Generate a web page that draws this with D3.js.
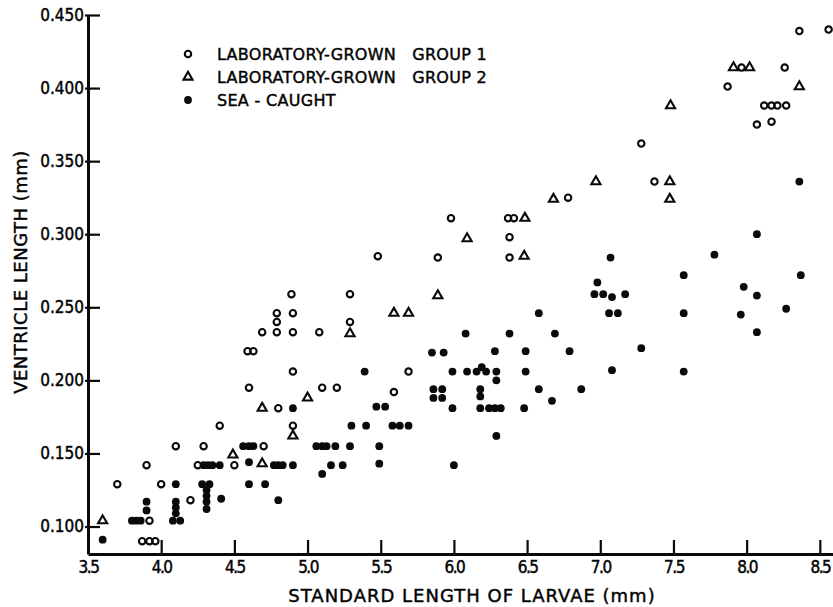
<!DOCTYPE html>
<html>
<head>
<meta charset="utf-8">
<script src="https://cdn.jsdelivr.net/npm/d3@7"></script>
<style>
  html, body { margin: 0; padding: 0; background: #fff; }
  svg { display: block; }
  text { fill: #000; }
</style>
</head>
<body>
<svg id="chart" width="833" height="607"></svg>
<script>
// ---------- data ----------
const xTickValues = [3.5, 4.0, 4.5, 5.0, 5.5, 6.0, 6.5, 7.0, 7.5, 8.0, 8.5];
const yTickValues = [0.100, 0.150, 0.200, 0.250, 0.300, 0.350, 0.400, 0.450];
const legendLabels = ["LABORATORY-GROWN   GROUP 1", "LABORATORY-GROWN   GROUP 2", "SEA - CAUGHT"];
const xTitle = "STANDARD LENGTH OF LARVAE (mm)";
const yTitle = "VENTRICLE LENGTH (mm)";

// [standard length, ventricle length]
const labGroup1 = [
  [3.7,0.129],[3.9,0.142],[3.92,0.104],[3.87,0.090],[3.92,0.090],[3.96,0.090],
  [4.0,0.129],[4.1,0.155],[4.2,0.118],[4.25,0.142],[4.29,0.155],[4.4,0.169],
  [4.5,0.142],[4.59,0.220],[4.63,0.220],[4.6,0.195],[4.69,0.233],[4.79,0.233],
  [4.9,0.233],[5.08,0.233],[4.79,0.246],[4.9,0.246],[4.79,0.240],[4.89,0.259],
  [5.29,0.259],[5.29,0.240],[5.48,0.285],[4.9,0.206],[5.69,0.206],[5.1,0.195],
  [5.2,0.195],[5.59,0.192],[4.8,0.181],[4.9,0.169],[4.7,0.155],[5.98,0.311],
  [6.37,0.311],[6.41,0.311],[6.38,0.298],[5.89,0.284],[6.38,0.284],[6.78,0.325],
  [7.28,0.362],[7.37,0.336],[7.87,0.401],[7.965,0.414],[8.26,0.414],[8.12,0.388],
  [8.17,0.388],[8.21,0.388],[8.27,0.388],[8.07,0.375],[8.17,0.377],[8.36,0.439],
  [8.56,0.440]
];
const labGroup2 = [
  [3.6,0.104],[4.49,0.149],[4.69,0.181],[4.69,0.143],[4.9,0.162],[5.0,0.188],
  [5.29,0.232],[5.59,0.246],[5.69,0.246],[5.89,0.258],[6.09,0.297],[6.485,0.311],
  [6.48,0.285],[6.68,0.324],[6.97,0.336],[7.475,0.336],[7.475,0.324],[7.48,0.388],
  [7.91,0.414],[8.02,0.414],[8.36,0.401]
];
const seaCaught = [
  [3.6,0.091],[3.8,0.104],[3.83,0.104],[3.86,0.104],[3.9,0.117],[3.9,0.111],
  [4.1,0.129],[4.1,0.117],[4.1,0.113],[4.1,0.109],[4.08,0.104],[4.13,0.104],
  [4.29,0.142],[4.32,0.142],[4.35,0.142],[4.28,0.129],[4.33,0.129],[4.31,0.125],
  [4.31,0.121],[4.31,0.117],[4.31,0.112],[4.4,0.142],[4.41,0.119],[4.6,0.129],
  [4.6,0.144],[4.56,0.155],[4.6,0.155],[4.63,0.155],[4.71,0.129],[4.8,0.118],
  [4.77,0.142],[4.80,0.142],[4.83,0.142],[4.9,0.142],[4.9,0.181],[5.06,0.155],
  [5.1,0.155],[5.13,0.155],[5.19,0.155],[5.29,0.155],[5.49,0.155],[5.16,0.142],
  [5.24,0.142],[5.49,0.143],[5.1,0.136],[5.3,0.169],[5.4,0.169],[5.47,0.182],
  [5.53,0.182],[5.39,0.206],[5.58,0.169],[5.63,0.169],[5.69,0.169],[5.85,0.219],
  [5.93,0.219],[6.28,0.220],[6.49,0.220],[6.79,0.220],[5.99,0.206],[6.09,0.206],
  [6.155,0.206],[6.19,0.209],[6.22,0.206],[6.29,0.206],[6.49,0.206],[6.29,0.200],
  [5.86,0.194],[5.92,0.194],[5.86,0.188],[5.92,0.188],[6.18,0.194],[6.18,0.189],
  [6.58,0.194],[6.87,0.194],[6.67,0.186],[5.99,0.181],[6.18,0.181],[6.24,0.181],
  [6.28,0.181],[6.32,0.181],[6.48,0.181],[6.29,0.162],[6.0,0.142],[6.08,0.232],
  [6.38,0.232],[6.69,0.232],[6.58,0.246],[7.07,0.284],[6.98,0.267],[6.96,0.259],
  [7.02,0.259],[7.08,0.257],[7.17,0.259],[7.06,0.246],[7.12,0.246],[7.57,0.272],
  [7.57,0.246],[7.28,0.222],[7.08,0.207],[7.57,0.206],[7.78,0.286],[8.07,0.300],
  [8.36,0.336],[8.37,0.272],[7.98,0.264],[8.07,0.258],[7.96,0.245],[8.27,0.249],
  [8.07,0.233]
];

// ---------- layout ----------
const svg = d3.select("#chart");
const x = d3.scaleLinear().domain([3.5, 8.59]).range([88, 833]);
const y = d3.scaleLinear().domain([0.0812, 0.45]).range([554, 15]);

const ink = "#0a0a0a";

// axes
const xAxis = d3.axisBottom(x).tickValues(xTickValues)
  .tickFormat(d3.format(".1f")).tickSize(-14).tickSizeOuter(0).tickPadding(7);
const yAxis = d3.axisLeft(y).tickValues(yTickValues)
  .tickFormat(d3.format(".3f")).tickSize(-12).tickSizeOuter(0).tickPadding(4);

const gx = svg.append("g").attr("transform", "translate(0,554)").call(xAxis);
const gy = svg.append("g").attr("transform", "translate(88,0)").call(yAxis);

[gx, gy].forEach(g => {
  g.select(".domain").attr("stroke", ink).attr("stroke-width", 3);
  g.selectAll(".tick line").attr("stroke", ink).attr("stroke-width", 2.2);
  g.selectAll(".tick text")
    .attr("font-family", "'DejaVu Sans Condensed', 'DejaVu Sans', sans-serif")
    .attr("font-size", 17).attr("fill", ink)
    .attr("stroke", ink).attr("stroke-width", 0.45);
});
gx.selectAll(".tick text").attr("letter-spacing", "-1.5px");
// small outward stub of y ticks
gy.selectAll(".tick").append("line")
  .attr("x1", -3).attr("x2", 0).attr("stroke", ink).attr("stroke-width", 2.2);

// titles
svg.append("text")
  .attr("x", 472).attr("y", 602)
  .attr("text-anchor", "middle")
  .attr("font-family", "'DejaVu Sans', sans-serif")
  .attr("font-size", 18).attr("letter-spacing", "1px")
  .attr("stroke", ink).attr("stroke-width", 0.45)
  .text(xTitle);

svg.append("text")
  .attr("transform", "translate(27,272) rotate(-90)")
  .attr("text-anchor", "middle")
  .attr("font-family", "'DejaVu Sans', sans-serif")
  .attr("font-size", 18).attr("letter-spacing", "0.5px")
  .attr("stroke", ink).attr("stroke-width", 0.45)
  .text(yTitle);

// marks
const triangle = d3.symbol().type(d3.symbolTriangle).size(36);

svg.append("g").selectAll("circle").data(labGroup1).join("circle")
  .attr("cx", d => x(d[0])).attr("cy", d => y(d[1])).attr("r", 3.2)
  .attr("fill", "none").attr("stroke", ink).attr("stroke-width", 2.1);

svg.append("g").selectAll("path").data(labGroup2).join("path")
  .attr("d", triangle)
  .attr("transform", d => `translate(${x(d[0])},${y(d[1])})`)
  .attr("fill", "none").attr("stroke", ink).attr("stroke-width", 2.1)
  .attr("stroke-linejoin", "miter");

svg.append("g").selectAll("circle").data(seaCaught).join("circle")
  .attr("cx", d => x(d[0])).attr("cy", d => y(d[1])).attr("r", 3.9)
  .attr("fill", ink);

// legend
const legendY = [54, 77, 100];
const lg = svg.append("g");
lg.append("circle").attr("cx", 188).attr("cy", legendY[0]).attr("r", 3.2)
  .attr("fill", "none").attr("stroke", ink).attr("stroke-width", 2.1);
lg.append("path").attr("d", triangle)
  .attr("transform", `translate(188,${legendY[1]})`)
  .attr("fill", "none").attr("stroke", ink).attr("stroke-width", 2.1);
lg.append("circle").attr("cx", 188).attr("cy", legendY[2]).attr("r", 3.9)
  .attr("fill", ink);
lg.selectAll("text").data(legendLabels).join("text")
  .attr("x", 217).attr("y", (d, i) => legendY[i] + 6)
  .attr("font-family", "'DejaVu Sans', sans-serif")
  .attr("font-size", 16).attr("letter-spacing", "0.3px")
  .attr("stroke", ink).attr("stroke-width", 0.45)
  .style("white-space", "pre")
  .text(d => d);
</script>
</body>
</html>
